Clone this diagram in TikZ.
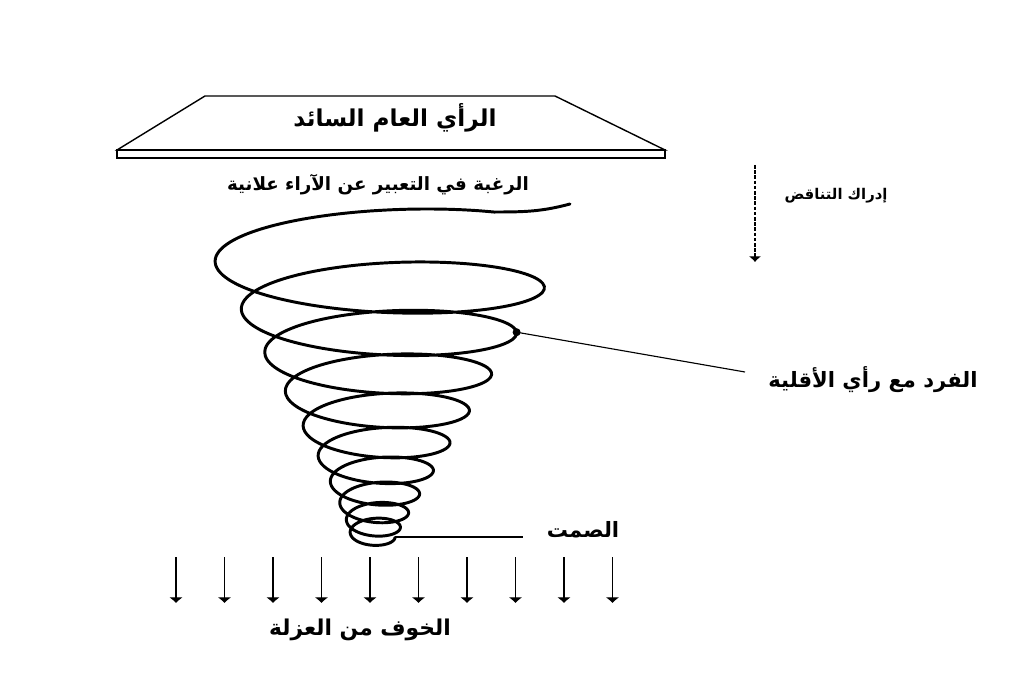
\documentclass[tikz,border=0pt]{standalone}
\usepackage{fontspec}
\setmainfont{DejaVu Sans}
\newfontfamily\arabicfont[Script=Arabic]{DejaVu Sans}
\TeXXeTstate=1
\usetikzlibrary{arrows.meta,positioning,calc}

\begin{document}
\begin{tikzpicture}[
    x=0.025cm, y=-0.025cm,
    caption/.style={font=\arabicfont\bfseries\fontsize{13}{15}\selectfont, inner sep=1pt},
    heading/.style={font=\arabicfont\bfseries\fontsize{16.5}{19}\selectfont, inner sep=1pt},
    spiral/.style={line width=2.1pt, line join=round, line cap=round},
    leader/.style={draw, line width=0.8pt},
    fall/.style={draw, line width=1.2pt, -{Latex[length=4pt,width=10pt]}},
    aware/.style={draw, line width=1.6pt, dash pattern=on 2.5pt off 1.2pt, -{Latex[length=4pt,width=9pt]}}
]
\useasboundingbox (0,0) rectangle (1032,682);

% Public opinion board
\draw[line width=1pt] (205,96) -- (555,96) -- (665,150) -- (117,150) -- cycle;
\draw[line width=1pt] (117,150) rectangle (665,158);
\node[heading] (opinion) at (395,118) {\beginR الرأي العام السائد\endR};
\node[caption] (desire) at (378,185) {\beginR الرغبة في التعبير عن الآراء علانية\endR};

% Perceived gap
\coordinate (awaretop) at (755,165);
\coordinate (awaretip) at (755,262);
\path[aware] (awaretop) -- (awaretip);
\node[caption, font=\arabicfont\bfseries\fontsize{10.5}{12}\selectfont] (perceive) at (836,196) {\beginR إدراك التناقض\endR};

% Spiral of silence
\coordinate (tailtip) at (570,204);
\draw[spiral] (tailtip) to[out=195, in=0] (495,212)
    -- plot[variable=\t, domain=0.15:10, samples=601, smooth]
    ({388-1.5*\t+(187-30.5*\t+1.4*\t*\t)*cos(360*\t)},
     {237+52*\t-2.2*\t*\t-(41-4.4*\t+0.13*\t*\t)*sin(360*\t)});

% Minority individual
\coordinate (member) at (516.6,332.2);
\coordinate (memberend) at (745,372);
\fill (member) circle (4);
\path[leader] (member) -- (memberend);
\node[caption, font=\arabicfont\bfseries\fontsize{15}{17}\selectfont] (minority) at (873,380) {\beginR الفرد مع رأي الأقلية\endR};

% Silence
\coordinate (quiet) at (395,537);
\coordinate (quietend) at (523,537);
\path[leader] (quiet) -- (quietend);
\node[caption, font=\arabicfont\bfseries\fontsize{15}{17}\selectfont] (silence) at (583,530) {\beginR الصمت\endR};

% Fear of isolation
\foreach \i in {0,...,9} {
    \coordinate (push\i) at ({176+48.5*\i},557);
    \coordinate (land\i) at ({176+48.5*\i},603);
    \path[fall] (push\i) -- (land\i);
}
\node[caption, font=\arabicfont\bfseries\fontsize{15.5}{18}\selectfont] (fear) at (360,630) {\beginR الخوف من العزلة\endR};
\end{tikzpicture}
\end{document}
